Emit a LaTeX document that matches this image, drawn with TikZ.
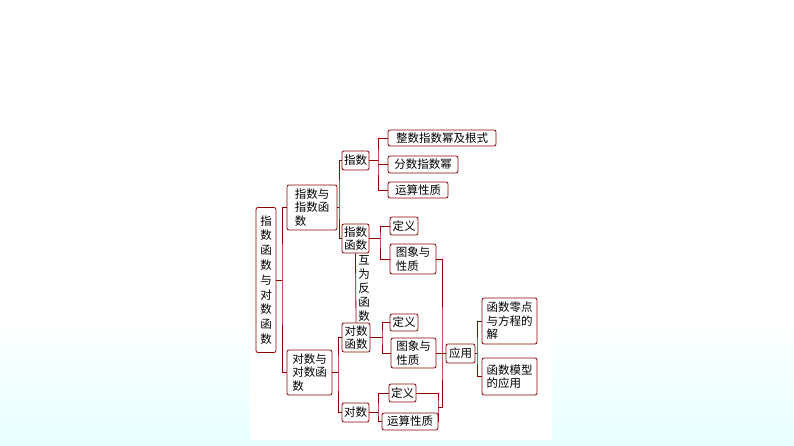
\documentclass[tikz,border=0pt]{standalone}
\usepackage{fontspec}
\setmainfont{Noto Sans CJK SC}
\begin{document}
\begin{tikzpicture}[x=1pt,y=-1pt,
  box/.style={draw=red!55!black, line width=0.8pt, rounded corners=2pt, inner sep=1pt, align=left, font=\fontsize{11.5}{13.5}\selectfont},
  ln/.style={draw=red!55!black, line width=0.8pt}]
\useasboundingbox (0,0) rectangle (794,446);
\shade[top color=white, bottom color=cyan!10] (0,320) rectangle (794,446);
\fill[white] (250,122) rectangle (552,440);
\node[box,minimum width=20pt,minimum height=145pt,font=\fontsize{11.5}{14.8}\selectfont] (root) at (266,280) {指\\数\\函\\数\\与\\对\\数\\函\\数};
\node[box,minimum width=50pt,minimum height=45pt] (A) at (312,207.5) {指数与\\指数函\\数};
\node[box,minimum width=45pt,minimum height=45pt] (B) at (309.5,372.5) {对数与\\对数函\\数};
\node[box,minimum width=27pt,minimum height=19pt] (C) at (355.5,160.5) {指数};
\node[box,minimum width=27pt,minimum height=29pt] (D) at (355.5,238.5) {指数\\函数};
\node[box,minimum width=28pt,minimum height=29pt] (E) at (356,337.5) {对数\\函数};
\node[box,minimum width=27pt,minimum height=19pt] (F) at (355.5,412.5) {对数};
\node[box,minimum width=108pt,minimum height=16pt] (G1) at (442,138) {整数指数幂及根式};
\node[box,minimum width=70pt,minimum height=17pt] (G2) at (423,164.5) {分数指数幂};
\node[box,minimum width=60pt,minimum height=16pt] (G3) at (418,190) {运算性质};
\node[box,minimum width=28pt,minimum height=18pt] (H1) at (404,226) {定义};
\node[box,minimum width=46pt,minimum height=30pt] (H2) at (413,259) {图象与\\性质};
\node[box,minimum width=28pt,minimum height=17pt] (I1) at (404,322.5) {定义};
\node[box,minimum width=45pt,minimum height=30pt] (I2) at (413.5,353) {图象与\\性质};
\node[box,minimum width=27pt,minimum height=18pt] (J1) at (402.5,393) {定义};
\node[box,minimum width=56pt,minimum height=17pt] (J2) at (410,421.5) {运算性质};
\node[box,minimum width=29pt,minimum height=19pt] (K) at (460.5,353.5) {应用};
\node[box,minimum width=55pt,minimum height=46pt] (L1) at (509.5,321) {函数零点\\与方程的\\解};
\node[box,minimum width=55pt,minimum height=37pt] (L2) at (509.5,376.5) {函数模型\\的应用};
\node[font=\fontsize{11.5}{14}\selectfont, align=center] (T) at (364,288) {互\\为\\反\\函\\数};
% connectors
\draw[ln] (root.east) -- (282,280);
\draw[ln] (A.west) -| (282,280) |- (B.west);
\draw[ln] (A.east) -- (339,207.5);
\draw[ln] (C.west) -| (339,200) |- (D.west);
\draw[ln] (B.east) -- (338,372.5);
\draw[ln] (E.west) -| (338,370) |- (F.west);
\draw[ln] (C.east) -- (378,160.5);
\draw[ln] (G1.west) -| (378,160) |- (G3.west);
\draw[ln] (G2.west) -- (378,164.5);
\draw[ln] (D.east) -- (380,238.5);
\draw[ln] (H1.west) -| (380,238) |- (H2.west);
\draw[ln] (E.east) -- (382,337.5);
\draw[ln] (I1.west) -| (382,337) |- (I2.west);
\draw[ln] (F.east) -- (378,412.5);
\draw[ln] (J1.west) -| (378,412) |- (J2.west);
\draw[ln] (D.south) -- (E.north);
\draw[ln] (J1.east) -| (438,407) |- (J2.east);
\draw[ln] (H2.east) -| (442,353.5) |- (438,407);
\draw[ln] (I2.east) -- (442,353);
\draw[ln] (442,353.5) -- (K.west);
\draw[ln] (K.east) -- (477,353.5);
\draw[ln] (L1.west) -| (477,353) |- (L2.west);
\end{tikzpicture}
\end{document}
